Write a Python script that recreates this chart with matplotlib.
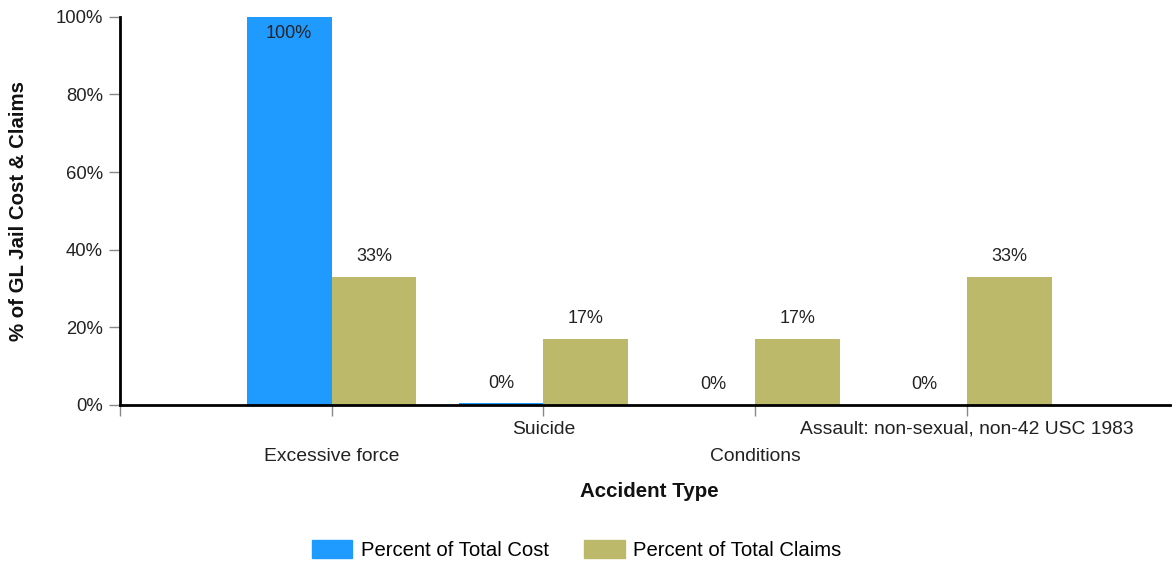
import matplotlib.pyplot as plt
from matplotlib.patches import Patch

plt.rcParams['font.family'] = ['Liberation Sans', 'DejaVu Sans']

categories = ['Excessive force', 'Suicide', 'Conditions',
              'Assault: non-sexual, non-42 USC 1983']
pct_cost = [100, 0.4, 0, 0]
pct_claims = [33, 17, 17, 33]
cost_labels = ['100%', '0%', '0%', '0%']
claims_labels = ['33%', '17%', '17%', '33%']

blue = '#1f9bff'
olive = '#bdb96b'
txt = '#222222'

fig = plt.figure(figsize=(11.74, 5.63), dpi=100)
ax = fig.add_axes([0.102, 0.281, 0.895, 0.689])

x = range(len(categories))
w = 0.4
ax.bar([i - w / 2 for i in x], pct_cost, width=w, color=blue)
ax.bar([i + w / 2 for i in x], pct_claims, width=w, color=olive)

for i in x:
    if pct_cost[i] >= 90:
        ax.text(i - w / 2, pct_cost[i] - 2.2, cost_labels[i], ha='center', va='top',
                fontsize=13, color=txt)
    else:
        ax.text(i - w / 2, pct_cost[i] + 3.0, cost_labels[i], ha='center', va='bottom',
                fontsize=13, color=txt)
    ax.text(i + w / 2, pct_claims[i] + 3.0, claims_labels[i], ha='center', va='bottom',
            fontsize=13, color=txt)

ax.set_xlim(-1, 3.96)
ax.set_ylim(0, 100)
ax.set_yticks([0, 20, 40, 60, 80, 100])
ax.set_yticklabels(['0%', '20%', '40%', '60%', '80%', '100%'], fontsize=13.3, color=txt)

ax.set_xticks([-1, 0, 1, 2, 3])
ax.set_xticklabels([])
for i, name in enumerate(categories):
    off = -0.133 if i % 2 == 0 else -0.063
    ax.text(i, off, name, transform=ax.get_xaxis_transform(), ha='center', va='center',
            fontsize=13.9, color=txt)

ax.tick_params(axis='both', direction='out', color='#888888', length=8, width=1)
ax.tick_params(axis='y', pad=4)
for s in ['top', 'right']:
    ax.spines[s].set_visible(False)
for s in ['left', 'bottom']:
    ax.spines[s].set_linewidth(2)
    ax.spines[s].set_color('black')
ax.spines['left'].set_zorder(5)
ax.spines['bottom'].set_zorder(5)

fig.text(0.553, 0.127, 'Accident Type', ha='center', va='center',
         fontsize=14.8, fontweight='bold', color='#111111')
fig.text(0.016, 0.625, '% of GL Jail Cost & Claims', ha='center', va='center',
         rotation=90, fontsize=14.7, fontweight='bold', color='#111111')

handles = [Patch(color=blue, label='Percent of Total Cost'),
           Patch(color=olive, label='Percent of Total Claims')]
fig.legend(handles=handles, loc='center', bbox_to_anchor=(0.491, 0.023), ncol=2,
           frameon=False, fontsize=14.6, handlelength=2.0, handleheight=1.0,
           columnspacing=1.75, handletextpad=0.4)

fig.savefig('out.png', dpi=100)
